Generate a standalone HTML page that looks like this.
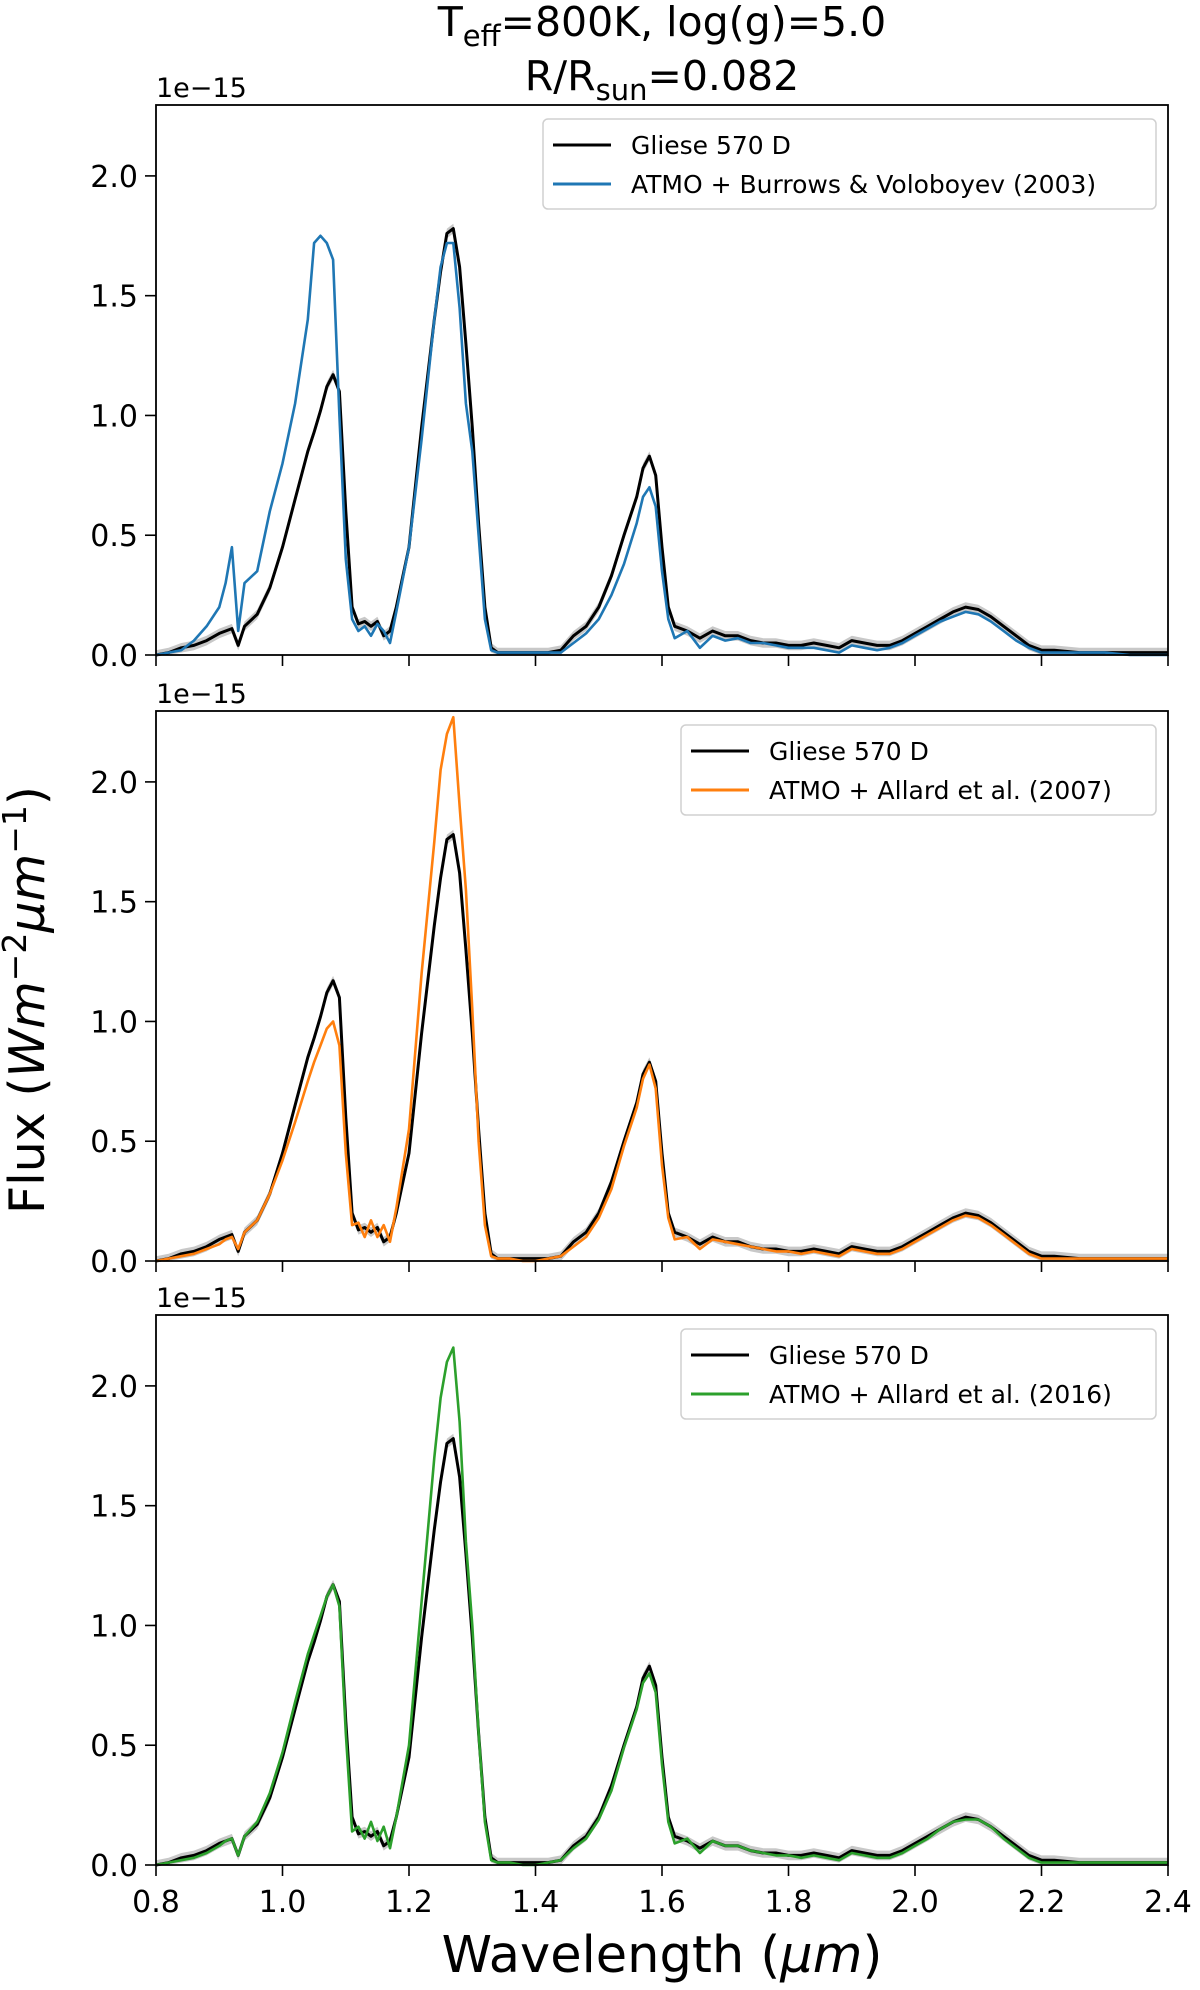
<!DOCTYPE html>
<html><head><meta charset="utf-8">
<style>
html,body{margin:0;padding:0;background:#fff;}
svg{display:block;font-family:"DejaVu Sans","Liberation Sans",sans-serif;}
</style></head>
<body>
<svg id="fig" width="1200" height="1990" viewBox="0 0 1200 1990" xmlns="http://www.w3.org/2000/svg">
<text x="662" y="36" font-size="41" text-anchor="middle">T<tspan font-size="29" dy="10">eff</tspan><tspan dy="-10">=800K, log(g)=5.0</tspan></text>
<text x="662" y="90" font-size="41" text-anchor="middle">R/R<tspan font-size="29" dy="10">sun</tspan><tspan dy="-10">=0.082</tspan></text>
<text transform="translate(44,1000) rotate(-90)" font-size="49" text-anchor="middle">Flux (<tspan font-style="italic">Wm</tspan><tspan font-size="33" dy="-18">−2</tspan><tspan dy="18" font-style="italic">μm</tspan><tspan font-size="33" dy="-18">−1</tspan><tspan dy="18">)</tspan></text>
<text x="662" y="1972" font-size="51" text-anchor="middle">Wavelength (<tspan font-style="italic">μm</tspan>)</text>
</svg>
<script>
const wl=[0.80,0.82,0.84,0.86,0.88,0.90,0.91,0.92,0.93,0.94,0.96,0.98,1.00,1.02,1.04,1.05,1.06,1.07,1.08,1.09,1.10,1.11,1.12,1.13,1.14,1.15,1.16,1.17,1.18,1.20,1.22,1.24,1.25,1.26,1.27,1.28,1.29,1.30,1.31,1.32,1.33,1.34,1.36,1.38,1.40,1.42,1.44,1.46,1.48,1.50,1.52,1.54,1.56,1.57,1.58,1.59,1.60,1.61,1.62,1.64,1.66,1.68,1.70,1.72,1.74,1.76,1.78,1.80,1.82,1.84,1.86,1.88,1.90,1.92,1.94,1.96,1.98,2.00,2.02,2.04,2.06,2.08,2.10,2.12,2.14,2.16,2.18,2.20,2.22,2.26,2.30,2.34,2.38,2.40];
const gliese=[0.00,0.01,0.03,0.04,0.06,0.09,0.10,0.11,0.04,0.12,0.17,0.28,0.45,0.65,0.85,0.93,1.02,1.12,1.17,1.10,0.60,0.20,0.13,0.14,0.12,0.14,0.08,0.10,0.20,0.45,0.95,1.40,1.60,1.76,1.78,1.62,1.30,0.95,0.55,0.20,0.03,0.01,0.01,0.01,0.01,0.01,0.02,0.08,0.12,0.20,0.33,0.50,0.66,0.78,0.83,0.75,0.45,0.20,0.12,0.10,0.07,0.10,0.08,0.08,0.06,0.05,0.05,0.04,0.04,0.05,0.04,0.03,0.06,0.05,0.04,0.04,0.06,0.09,0.12,0.15,0.18,0.20,0.19,0.16,0.12,0.08,0.04,0.02,0.02,0.01,0.01,0.01,0.01,0.01];
const burrows=[0.00,0.01,0.02,0.06,0.12,0.20,0.30,0.45,0.10,0.30,0.35,0.60,0.80,1.05,1.40,1.72,1.75,1.72,1.65,1.00,0.40,0.15,0.10,0.12,0.08,0.13,0.10,0.05,0.18,0.45,0.90,1.40,1.62,1.72,1.72,1.45,1.05,0.85,0.50,0.15,0.02,0.01,0.01,0.01,0.01,0.01,0.01,0.05,0.09,0.15,0.25,0.38,0.55,0.66,0.70,0.62,0.35,0.15,0.07,0.10,0.03,0.08,0.06,0.07,0.05,0.05,0.04,0.03,0.03,0.03,0.02,0.01,0.04,0.03,0.02,0.03,0.05,0.08,0.11,0.14,0.16,0.18,0.17,0.14,0.10,0.06,0.03,0.01,0.01,0.01,0.01,0.00,0.00,0.00];
const allard07=[0.00,0.01,0.02,0.03,0.05,0.07,0.09,0.10,0.05,0.12,0.17,0.28,0.42,0.58,0.75,0.83,0.90,0.97,1.00,0.90,0.45,0.15,0.16,0.10,0.17,0.10,0.15,0.08,0.22,0.55,1.20,1.75,2.05,2.20,2.27,1.90,1.55,1.05,0.50,0.15,0.02,0.01,0.01,0.00,0.00,0.01,0.02,0.06,0.10,0.18,0.30,0.48,0.64,0.76,0.82,0.72,0.40,0.18,0.09,0.10,0.05,0.09,0.08,0.07,0.06,0.05,0.04,0.04,0.03,0.04,0.03,0.02,0.05,0.04,0.03,0.03,0.05,0.08,0.11,0.14,0.17,0.19,0.18,0.15,0.11,0.07,0.03,0.01,0.01,0.01,0.01,0.01,0.01,0.01];
const allard16=[0.00,0.01,0.02,0.03,0.05,0.08,0.10,0.11,0.04,0.12,0.18,0.30,0.47,0.68,0.88,0.96,1.04,1.12,1.17,1.08,0.55,0.14,0.16,0.11,0.18,0.10,0.16,0.07,0.20,0.50,1.10,1.70,1.95,2.10,2.16,1.85,1.35,1.00,0.55,0.18,0.02,0.01,0.01,0.00,0.00,0.01,0.02,0.07,0.11,0.19,0.31,0.49,0.65,0.76,0.80,0.72,0.42,0.18,0.09,0.11,0.05,0.10,0.08,0.08,0.06,0.05,0.04,0.04,0.03,0.04,0.03,0.02,0.05,0.04,0.03,0.03,0.05,0.08,0.11,0.15,0.18,0.19,0.19,0.16,0.11,0.07,0.03,0.01,0.01,0.01,0.01,0.01,0.01,0.01];
const xTicks=[0.8,1.0,1.2,1.4,1.6,1.8,2.0,2.2,2.4];
const xTickLabels=["0.8","1.0","1.2","1.4","1.6","1.8","2.0","2.2","2.4"];
const yTicks=[0.0,0.5,1.0,1.5,2.0];
const yTickLabels=["0.0","0.5","1.0","1.5","2.0"];
const modelNames=["ATMO + Burrows & Voloboyev (2003)","ATMO + Allard et al. (2007)","ATMO + Allard et al. (2016)"];
const models=[burrows,allard07,allard16];
const modelColors=["#1f77b4","#ff7f0e","#2ca02c"];

const NS="http://www.w3.org/2000/svg";
const svg=document.getElementById('fig');
const L=156,R=1168,H=550,tops=[105,711,1315];
const XMIN=0.8,XMAX=2.4,YMIN=0,YMAX=2.296;
function mk(tag,attrs,parent){const e=document.createElementNS(NS,tag);for(const k in attrs)e.setAttribute(k,attrs[k]);(parent||svg).appendChild(e);return e;}
const xs=v=>L+(v-XMIN)/(XMAX-XMIN)*(R-L);
function pathFor(vals,ys){return vals.map((v,i)=>(i?'L':'M')+xs(wl[i]).toFixed(1)+','+ys(v).toFixed(1)).join('');}

tops.forEach((T,p)=>{
  const ys=v=>T+H-(v-YMIN)/(YMAX-YMIN)*H;
  const g=mk('g',{});
  
  
  let up=wl.map((w,i)=>xs(w).toFixed(1)+','+ys(gliese[i]+0.02).toFixed(1));
  let dn=wl.map((w,i)=>xs(w).toFixed(1)+','+ys(Math.max(0,gliese[i]-0.02)).toFixed(1)).reverse();
  const band=mk('polygon',{points:up.concat(dn).join(' '),fill:'#c8c8c8'},g);
  
  
  const obs=mk('path',{d:pathFor(gliese,ys),fill:'none',stroke:'#000','stroke-width':3,'stroke-linejoin':'round'},g);
  
  
  const mod=mk('path',{d:pathFor(models[p],ys),fill:'none',stroke:modelColors[p],'stroke-width':2.6,'stroke-linejoin':'round'},g);
  
  
  const fr=mk('rect',{x:L,y:T,width:R-L,height:H,fill:'none',stroke:'#000','stroke-width':1.8},g);
  
  
  xTicks.forEach((v,i)=>{
    const t=mk('line',{x1:xs(v),x2:xs(v),y1:T+H,y2:T+H+11,stroke:'#000','stroke-width':1.6},g);
    
    
    if(p===2){
      const tl=mk('text',{x:xs(v),y:T+H+47,'font-size':30,'text-anchor':'middle'},g);
      tl.textContent=xTickLabels[i];
      
      
    }
  });
  yTicks.forEach((v,i)=>{
    const t=mk('line',{x1:L-11,x2:L,y1:ys(v),y2:ys(v),stroke:'#000','stroke-width':1.6},g);
    
    
    const tl=mk('text',{x:L-18,y:ys(v)+11,'font-size':30,'text-anchor':'end'},g);
    tl.textContent=yTickLabels[i];
    
    
  });
  const off=mk('text',{x:L,y:T-8,'font-size':27},g);
  off.textContent='1e−15';
  
  
  const lx=p===0?543:681, lw=1156-lx;
  const lg=mk('g',{},g);
  
  
  mk('rect',{x:lx,y:T+14,width:lw,height:90,rx:5,fill:'#fff','fill-opacity':0.85,stroke:'#d0d0d0','stroke-width':1.5},lg);
  const names=['Gliese 570 D',modelNames[p]], cols=['#000',modelColors[p]];
  [40,79].forEach((dy,j)=>{
    const ln=mk('line',{x1:lx+10,x2:lx+68,y1:T+dy,y2:T+dy,stroke:cols[j],'stroke-width':3},lg);
    
    
    const tx=mk('text',{x:lx+88,y:T+dy+9,'font-size':25},lg);
    tx.textContent=names[j];
    
    
  });
});
</script>
</body></html>
